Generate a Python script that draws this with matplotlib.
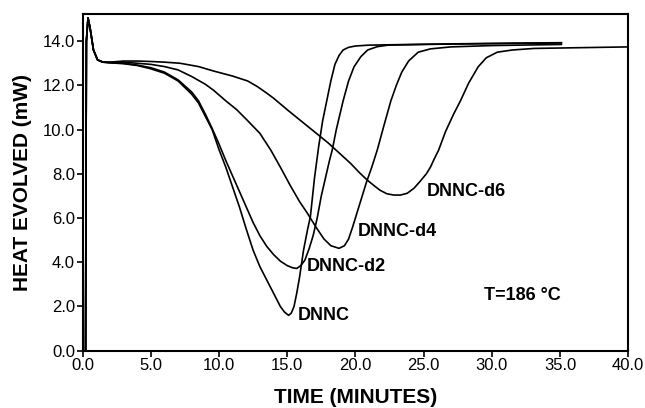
import matplotlib.pyplot as plt
import numpy as np

plt.rcParams['font.family'] = ['Liberation Sans', 'DejaVu Sans']

# common start-up transient (same for all runs)
t_start = [0.22, 0.28, 0.4, 0.55, 0.8, 1.1, 1.5]
y_start = [0.0, 14.0, 15.05, 14.6, 13.6, 13.15, 13.05]

# DNNC
t_dnnc = [2.0, 3.0, 4.0, 5.0, 6.0, 7.0, 8.0, 8.5, 9.0, 9.5, 10.0, 10.5, 11.0, 11.5, 12.0,
          12.5, 13.0, 13.5, 14.0, 14.5, 14.8, 15.1, 15.3, 15.5, 15.7, 15.9, 16.2, 16.5,
          16.7, 17.0, 17.3, 17.6, 17.9, 18.2, 18.5, 18.8, 19.1, 19.5, 20.0, 21.0, 25.0,
          30.0, 35.1]
y_dnnc = [13.02, 12.98, 12.9, 12.75, 12.55, 12.2, 11.6, 11.2, 10.6, 10.0, 9.1, 8.3, 7.4,
          6.5, 5.5, 4.55, 3.8, 3.2, 2.6, 2.0, 1.75, 1.6, 1.7, 2.0, 2.6, 3.3, 4.55, 5.5,
          6.06, 7.8, 9.2, 10.4, 11.3, 12.2, 12.95, 13.35, 13.6, 13.72, 13.78, 13.82,
          13.86, 13.9, 13.93]

# DNNC-d2
t_d2 = [2.0, 3.0, 4.0, 5.0, 6.0, 7.0, 8.0, 8.5, 9.0, 9.5, 10.0, 10.5, 11.0, 11.5, 12.0,
        12.5, 13.0, 13.5, 14.0, 14.5, 15.0, 15.4, 15.7, 16.0, 16.3, 16.6, 16.9, 17.2,
        17.5, 17.8, 18.1, 18.3, 18.6, 19.1, 19.5, 19.9, 20.4, 20.9, 21.6, 22.4, 26.0,
        35.1]
y_d2 = [13.02, 13.0, 12.92, 12.8, 12.6, 12.25, 11.7, 11.3, 10.7, 10.05, 9.35, 8.6, 7.9,
        7.2, 6.5, 5.8, 5.2, 4.72, 4.35, 4.05, 3.85, 3.75, 3.72, 3.85, 4.1, 4.6, 5.2, 6.0,
        7.0, 7.8, 8.6, 9.07, 10.0, 11.3, 12.2, 12.84, 13.3, 13.6, 13.75, 13.82, 13.86,
        13.92]

# DNNC-d4
t_d4 = [2.0, 3.0, 4.0, 5.0, 6.0, 7.0, 8.0, 9.0, 9.6, 10.5, 11.3, 12.06, 13.0, 13.8,
        14.5, 15.2, 15.9, 16.5, 17.1, 17.7, 18.2, 18.8, 19.2, 19.5, 19.8, 20.1, 20.4,
        20.8, 21.2, 21.6, 22.1, 22.6, 23.0, 23.4, 23.9, 24.6, 25.5, 27.0, 30.0, 35.1]
y_d4 = [13.05, 13.05, 13.0, 12.95, 12.85, 12.7, 12.4, 12.05, 11.78, 11.3, 10.9, 10.43,
        9.83, 9.07, 8.3, 7.5, 6.75, 6.2, 5.6, 5.05, 4.75, 4.63, 4.75, 5.05, 5.6, 6.2,
        6.8, 7.6, 8.3, 9.07, 10.2, 11.3, 12.0, 12.6, 13.1, 13.5, 13.65, 13.74, 13.8,
        13.85]

# DNNC-d6
t_d6 = [2.0, 3.0, 4.0, 5.0, 6.0, 7.15, 8.5, 9.6, 11.0, 12.1, 12.8, 13.5, 14.0, 15.0,
        16.0, 17.0, 18.0, 18.8, 19.65, 20.3, 20.9, 21.4, 21.8, 22.3, 22.8, 23.3, 23.8,
        24.3, 24.8, 25.2, 25.5, 25.8, 26.1, 26.6, 27.2, 27.7, 28.3, 29.0, 29.6, 30.4,
        31.5, 33.1, 36.0, 40.0]
y_d6 = [13.05, 13.1, 13.1, 13.08, 13.05, 13.0, 12.85, 12.65, 12.42, 12.2, 11.95, 11.65,
        11.42, 10.9, 10.4, 9.9, 9.4, 8.95, 8.47, 8.05, 7.7, 7.45, 7.26, 7.1, 7.04, 7.04,
        7.12, 7.35, 7.7, 8.0, 8.3, 8.7, 9.07, 9.9, 10.7, 11.3, 12.1, 12.84, 13.25, 13.5,
        13.6, 13.67, 13.7, 13.74]

curves = [(t_dnnc, y_dnnc), (t_d2, y_d2), (t_d4, y_d4), (t_d6, y_d6)]

labels = ['DNNC', 'DNNC-d2', 'DNNC-d4', 'DNNC-d6']
label_x = [15.8, 16.45, 20.2, 25.2]
label_y = [1.6, 3.8, 5.4, 7.2]

fig = plt.figure(figsize=(6.45, 4.08), dpi=100)
ax = fig.add_axes([0.128, 0.1404, 0.846, 0.8265])

for t, y in curves:
    ax.plot(t_start + t, y_start + y, color='black', lw=1.2)

for lab, lx, ly in zip(labels, label_x, label_y):
    ax.text(lx, ly, lab, fontsize=13, fontweight='bold', ha='left', va='center')

ax.text(29.4, 2.5, 'T=186 °C', fontsize=13, fontweight='bold', ha='left', va='center')

ax.set_xlim(0, 40)
ax.set_ylim(0, 15.25)
ax.set_xticks(np.arange(0, 41, 5))
ax.set_xticklabels(['%.1f' % v for v in np.arange(0, 41, 5)])
ax.set_yticks(np.arange(0, 15, 2))
ax.set_yticklabels(['%.1f' % v for v in np.arange(0, 15, 2)])
ax.tick_params(direction='out', length=4, width=1.2, labelsize=12, pad=1.5)
for sp in ax.spines.values():
    sp.set_linewidth(1.5)

ax.set_xlabel('TIME (MINUTES)', fontsize=15, fontweight='bold')
ax.set_ylabel('HEAT EVOLVED (mW)', fontsize=15, fontweight='bold')
ax.xaxis.set_label_coords(0.5, -0.11)
ax.yaxis.set_label_coords(-0.093, 0.5)

fig.savefig('out.png', dpi=100)
